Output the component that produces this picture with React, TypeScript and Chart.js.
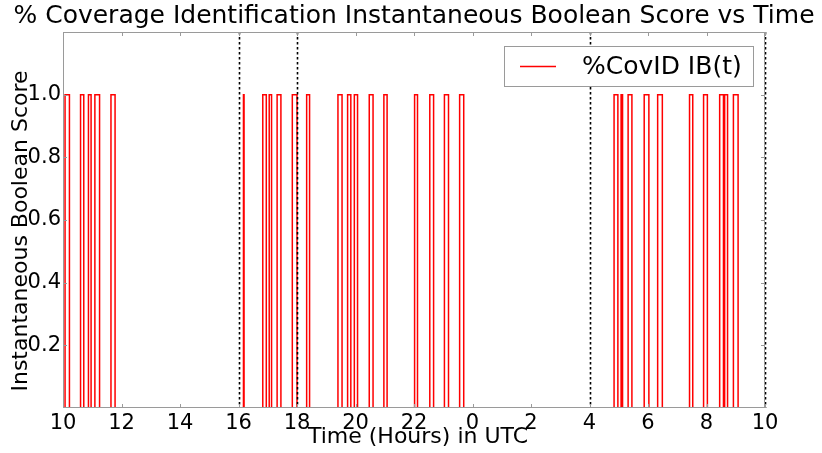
import React, { useEffect, useRef } from "react";
import { Chart, registerables } from "chart.js";

Chart.register(...registerables);

const TITLE = "% Coverage Identification Instantaneous Boolean Score vs Time";
const X_LABEL = "Time (Hours) in UTC";
const Y_LABEL = "Instantaneous Boolean Score";
const SERIES_LABEL = "%CovID IB(t)";

// Hours (continuous from 10:00 UTC day 1 to 10:00 UTC day 2 = 34)
const X_MIN = 10;
const X_MAX = 34;
const X_TICK_STEP = 2;
const Y_TICKS = [0.2, 0.4, 0.6, 0.8, 1.0];
const Y_MAX = 1.2;

// Intervals where IB(t) = 1
const onStart = [
  10.07, 10.6, 10.87, 11.09, 11.64,
  16.17, 16.83, 17.05, 17.32, 17.84, 18.33,
  19.4, 19.73, 19.96, 20.47, 20.97,
  22.02, 22.54, 23.04, 23.56,
  28.84, 29.08, 29.32, 29.87, 30.33,
  31.42, 31.9, 32.45, 32.62, 32.92,
];
const onEnd = [
  10.22, 10.71, 10.96, 11.25, 11.78,
  16.19, 16.95, 17.13, 17.45, 18.0, 18.43,
  19.54, 19.84, 20.07, 20.6, 21.08,
  22.12, 22.67, 23.18, 23.7,
  28.97, 29.13, 29.45, 30.03, 30.49,
  31.53, 32.03, 32.58, 32.72, 33.08,
];

// Vertical dotted markers
const markerHours = [16, 18, 28, 34];

const FONT = "'DejaVu Sans', sans-serif";

function buildSeries() {
  const pts: { x: number; y: number }[] = [{ x: X_MIN, y: 0 }];
  for (let i = 0; i < onStart.length; i++) {
    pts.push({ x: onStart[i], y: 0 });
    pts.push({ x: onStart[i], y: 1 });
    pts.push({ x: onEnd[i], y: 1 });
    pts.push({ x: onEnd[i], y: 0 });
  }
  pts.push({ x: X_MAX, y: 0 });
  return pts;
}

const framePlugin = {
  id: "framePlugin",
  afterDraw(chart: any) {
    const { ctx, chartArea: a, scales } = chart;
    const xs = scales.x;
    const ys = scales.y;
    ctx.save();
    // dotted markers
    ctx.strokeStyle = "#000";
    ctx.lineWidth = 1.6;
    ctx.setLineDash([2.5, 2.5]);
    for (const h of markerHours) {
      const px = Math.round(xs.getPixelForValue(h)) + 0.5;
      ctx.beginPath();
      ctx.moveTo(px, a.top);
      ctx.lineTo(px, a.bottom);
      ctx.stroke();
    }
    ctx.setLineDash([]);
    // frame
    ctx.strokeStyle = "#9a9a9a";
    ctx.lineWidth = 1;
    ctx.strokeRect(a.left + 0.5, a.top + 0.5, a.right - a.left - 1, a.bottom - a.top - 1);
    // inner tick marks
    const tl = 4;
    ctx.beginPath();
    for (let h = X_MIN; h <= X_MAX; h += X_TICK_STEP) {
      const px = Math.round(xs.getPixelForValue(h)) + 0.5;
      ctx.moveTo(px, a.bottom);
      ctx.lineTo(px, a.bottom - tl);
      ctx.moveTo(px, a.top);
      ctx.lineTo(px, a.top + tl);
    }
    for (const v of Y_TICKS) {
      const py = Math.round(ys.getPixelForValue(v)) + 0.5;
      ctx.moveTo(a.left, py);
      ctx.lineTo(a.left + tl, py);
      ctx.moveTo(a.right, py);
      ctx.lineTo(a.right - tl, py);
    }
    ctx.stroke();

    // title
    ctx.fillStyle = "#000";
    ctx.font = `25px ${FONT}`;
    ctx.textAlign = "center";
    ctx.textBaseline = "middle";
    ctx.fillText(TITLE, 414, 16);
    // x label
    ctx.font = `22px ${FONT}`;
    ctx.fillText(X_LABEL, 418, 437);
    // y label
    ctx.save();
    ctx.translate(21, 231);
    ctx.rotate(-Math.PI / 2);
    ctx.fillText(Y_LABEL, 0, 0);
    ctx.restore();

    // legend
    const lx = 504.5, ly = 46.5, lw = 249, lh = 40;
    ctx.fillStyle = "#fff";
    ctx.fillRect(lx, ly, lw, lh);
    ctx.strokeStyle = "#9a9a9a";
    ctx.lineWidth = 1;
    ctx.strokeRect(lx, ly, lw, lh);
    const ds = chart.data.datasets[0];
    ctx.strokeStyle = ds.borderColor;
    ctx.lineWidth = 1.5;
    ctx.beginPath();
    ctx.moveTo(520, 66.5);
    ctx.lineTo(556, 66.5);
    ctx.stroke();
    ctx.fillStyle = "#000";
    ctx.font = `25px ${FONT}`;
    ctx.textAlign = "left";
    ctx.fillText(ds.label, 582, 67);
    ctx.restore();
  },
};

export default function App() {
  const ref = useRef<HTMLCanvasElement | null>(null);
  useEffect(() => {
    if (!ref.current) return;
    const chart = new Chart(ref.current, {
      type: "line",
      data: {
        datasets: [
          {
            label: SERIES_LABEL,
            data: buildSeries(),
            borderColor: "#ff0000",
            borderWidth: 1.5,
            pointRadius: 0,
            fill: false,
            tension: 0,
          },
        ],
      },
      options: {
        animation: false,
        responsive: true,
        maintainAspectRatio: false,
        layout: { padding: { top: 32, right: 57, left: 0, bottom: 0 } },
        plugins: {
          legend: { display: false },
          title: { display: false },
          tooltip: { enabled: false },
        },
        scales: {
          x: {
            type: "linear",
            min: X_MIN,
            max: X_MAX,
            grid: { display: false, drawTicks: false },
            border: { display: false },
            ticks: {
              stepSize: X_TICK_STEP,
              autoSkip: false,
              maxRotation: 0,
              padding: 3,
              color: "#000",
              font: { family: FONT, size: 21 },
              callback: (v: any) => String(((Number(v) % 24) + 24) % 24),
            },
            afterFit: (s: any) => {
              s.height = 45;
            },
          },
          y: {
            type: "linear",
            min: 0,
            max: Y_MAX,
            grid: { display: false, drawTicks: false },
            border: { display: false },
            ticks: {
              stepSize: 0.2,
              padding: 2,
              color: "#000",
              font: { family: FONT, size: 21 },
              callback: (v: any) => {
                const n = Number(v);
                return Y_TICKS.some((t) => Math.abs(t - n) < 1e-6) ? n.toFixed(1) : "";
              },
            },
            afterFit: (s: any) => {
              s.width = 63;
            },
          },
        },
      },
      plugins: [framePlugin],
    });
    return () => chart.destroy();
  }, []);
  return (
    <div style={{ position: "absolute", left: 0, top: 0, width: 822, height: 453, background: "#fff" }}>
      <canvas ref={ref} />
    </div>
  );
}
